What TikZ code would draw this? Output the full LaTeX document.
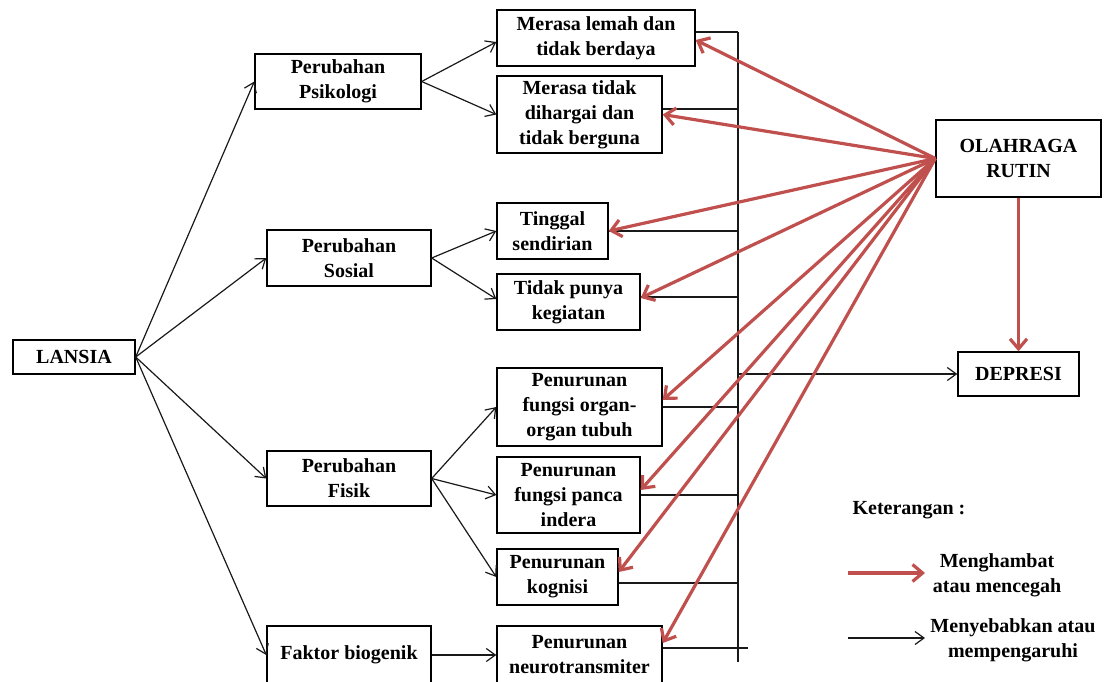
\documentclass[tikz,border=0pt]{standalone}
\usepackage{fontspec}
\setmainfont{Liberation Serif}
\usetikzlibrary{arrows.meta,calc}
\definecolor{redarr}{HTML}{C0504D}
\begin{document}
\begin{tikzpicture}[x=1pt,y=-1pt,
  box/.style={draw=black, line width=1.4pt, align=center, inner sep=0pt,
    font=\fontsize{20}{25}\selectfont\bfseries},
  legtext/.style={align=center, inner sep=0pt, font=\fontsize{20}{25}\selectfont\bfseries},
  cause/.style={draw=black!90, line width=1.2pt, -{Straight Barb[length=9pt,width=13pt]}},
  inhib/.style={draw=redarr, line width=3.2pt, -{Straight Barb[length=10pt,width=17pt]}},
  busline/.style={draw=black!90, line width=1.3pt}]
\useasboundingbox (0,0) rectangle (1105,681);

% nodes
\node[box, minimum width=122pt, minimum height=34pt] (lansia) at (74,357) {LANSIA};
\node[box, minimum width=166pt, minimum height=55pt] (psi) at (338,81.5) {Perubahan\\Psikologi};
\node[box, minimum width=164pt, minimum height=56pt] (sos) at (349,258) {Perubahan\\Sosial};
\node[box, minimum width=164pt, minimum height=55pt] (fis) at (349,478.5) {Perubahan\\Fisik};
\node[box, minimum width=164pt, minimum height=58pt] (bio) at (349,655) {Faktor biogenik};

\node[box, minimum width=198pt, minimum height=56pt] (ml) at (596,38) {Merasa lemah dan\\tidak berdaya};
\node[box, minimum width=165pt, minimum height=77pt] (mt) at (579.5,114.5) {Merasa tidak\\dihargai dan\\tidak berguna};
\node[box, minimum width=111pt, minimum height=56pt] (ts) at (552.5,231) {Tinggal\\sendirian};
\node[box, minimum width=143pt, minimum height=56pt] (tp) at (568.5,302) {Tidak punya\\kegiatan};
\node[box, minimum width=165pt, minimum height=78pt] (fo) at (579.5,407) {Penurunan\\fungsi organ-\\organ tubuh};
\node[box, minimum width=143pt, minimum height=76pt] (pi) at (568.5,495) {Penurunan\\fungsi panca\\indera};
\node[box, minimum width=121pt, minimum height=56pt] (kg) at (557.5,577) {Penurunan\\kognisi};
\node[box, minimum width=165pt, minimum height=58pt] (nt) at (579.5,655) {Penurunan\\neurotransmiter};

\node[box, minimum width=165pt, minimum height=77pt] (ol) at (1018.5,158.5) {OLAHRAGA\\RUTIN};
\node[box, minimum width=121pt, minimum height=44pt] (dp) at (1018.5,374) {DEPRESI};

% black causal arrows
\draw[cause] (lansia.east) -- (psi.west);
\draw[cause] (lansia.east) -- (sos.west);
\draw[cause] (lansia.east) -- (fis.west);
\draw[cause] (lansia.east) -- (bio.west);
\draw[cause] (psi.east) -- ([yshift=-4pt]ml.west);
\draw[cause] (psi.east) -- (mt.west);
\draw[cause] (sos.east) -- (ts.west);
\draw[cause] (sos.east) -- ([yshift=3pt]tp.west);
\draw[cause] (fis.east) -- (fo.west);
\draw[cause] (fis.east) -- (pi.west);
\draw[cause] (fis.east) -- (kg.west);
\draw[cause] (bio.east) -- (nt.west);

% bus line
\coordinate (busT) at (738,32);
\coordinate (busB) at (738,662);
\draw[busline] (busT) -- (busB);
\coordinate (mlO) at ([yshift=6pt]ml.east);
\coordinate (mtO) at ([yshift=5.5pt]mt.east);
\coordinate (tsO) at (ts.east);
\coordinate (tpO) at ([yshift=5pt]tp.east);
\coordinate (foO) at (fo.east);
\coordinate (piO) at (pi.east);
\coordinate (kgO) at ([yshift=-6pt]kg.east);
\coordinate (ntO) at ([yshift=7pt]nt.east);
\draw[busline] (mlO) -- (mlO -| busT);
\draw[busline] (mtO) -- (mtO -| busT);
\draw[busline] (tsO) -- (tsO -| busT);
\draw[busline] (tpO) -- (tpO -| busT);
\draw[busline] (foO) -- (foO -| busT);
\draw[busline] (piO) -- (piO -| busT);
\draw[busline] (kgO) -- (kgO -| busT);
\draw[busline] (ntO) -- ($(ntO -| busT)+(10,0)$);
\draw[cause] (dp.west -| busT) -- (dp.west);

% red inhibiting arrows
\draw[inhib] (ol.west) -- ([yshift=-2pt]ml.east);
\draw[inhib] (ol.west) -- (mt.east);
\draw[inhib] (ol.west) -- (ts.east);
\draw[inhib] (ol.west) -- ([yshift=4pt]tp.east);
\draw[inhib] (ol.west) -- ([yshift=7pt]fo.east);
\draw[inhib] (ol.west) -- ([yshift=5pt]pi.east);
\draw[inhib] (ol.west) -- ([yshift=5pt]kg.east);
\draw[inhib] (ol.west) -- ([yshift=12pt]nt.east);
\draw[inhib] (ol.south) -- (dp.north);

% legend
\node[legtext] (ket) at (909,510) {Keterangan :};
\coordinate (l1a) at (848,573);
\coordinate (l1b) at (925,573);
\coordinate (l2a) at (848,638);
\coordinate (l2b) at (925,638);
\draw[inhib] (l1a) -- (l1b);
\draw[cause] (l2a) -- (l2b);
\node[legtext] (leg1) at (997,575) {Menghambat\\atau mencegah};
\node[legtext] (leg2) at (1013,640) {Menyebabkan atau\\mempengaruhi};
\end{tikzpicture}
\end{document}
